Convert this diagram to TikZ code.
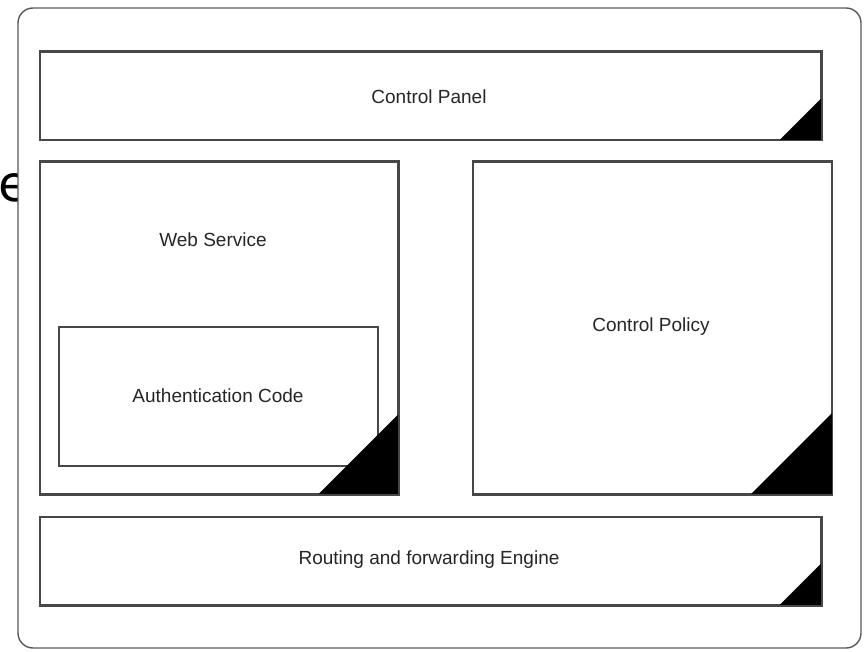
\documentclass[tikz,border=0pt]{standalone}
\usepackage{fontspec}
\setmainfont{Liberation Sans}
\newfontfamily\dejavu{DejaVu Sans}
\begin{document}
\begin{tikzpicture}[x=1pt,y=-1pt,
  panel/.style={draw=black!72, line width=1.5pt, fill=white, inner sep=0pt},
  caption/.style={font=\fontsize{19}{22}\selectfont, text=black!85, inner sep=0pt},
  corner/.style={fill=black}]
\useasboundingbox (0,0) rectangle (865,652);

% stray glyph partly hidden behind the frame
\node[anchor=base west, inner sep=0pt, font=\dejavu\fontsize{50}{60}\selectfont] (stray) at (-2,202) {e};

% outer frame
\node[draw=black!65, line width=1.4pt, fill=white, rounded corners=15pt,
      minimum width=843pt, minimum height=640pt, inner sep=0pt] (frame) at (439.5,328) {};

% control panel
\node[panel, minimum width=781pt, minimum height=88pt] (cp) at (430.5,96) {};
\fill[corner] (cp.south east) -- ++(-43,0) -- ++(43,-43) -- cycle;
\draw[black!72, line width=1.5pt] (cp.north west) rectangle (cp.south east);
\node[caption] (cpt) at (429,97) {Control Panel};

% web service with the authentication code inside
\node[panel, minimum width=358pt, minimum height=332pt] (ws) at (219,328) {};
\node[draw=black!72, line width=1.5pt, inner sep=0pt,
      minimum width=319pt, minimum height=139pt] (ac) at (218.5,396.5) {};
\fill[corner] (ws.south east) -- ++(-81,0) -- ++(81,-81) -- cycle;
\draw[black!72, line width=1.5pt] (ws.north west) rectangle (ws.south east);
\node[caption] (wst) at (213,240) {Web Service};
\node[caption] (act) at (218,396) {Authentication Code};

% control policy
\node[panel, minimum width=358pt, minimum height=332pt] (pol) at (652.5,328) {};
\fill[corner] (pol.south east) -- ++(-82,0) -- ++(82,-82) -- cycle;
\draw[black!72, line width=1.5pt] (pol.north west) rectangle (pol.south east);
\node[caption] (polt) at (651,327) {Control Policy};

% routing and forwarding engine
\node[panel, minimum width=781pt, minimum height=88pt] (rf) at (430.5,561) {};
\fill[corner] (rf.south east) -- ++(-43,0) -- ++(43,-43) -- cycle;
\draw[black!72, line width=1.5pt] (rf.north west) rectangle (rf.south east);
\node[caption] (rft) at (429,560) {Routing and forwarding Engine};
\end{tikzpicture}
\end{document}
